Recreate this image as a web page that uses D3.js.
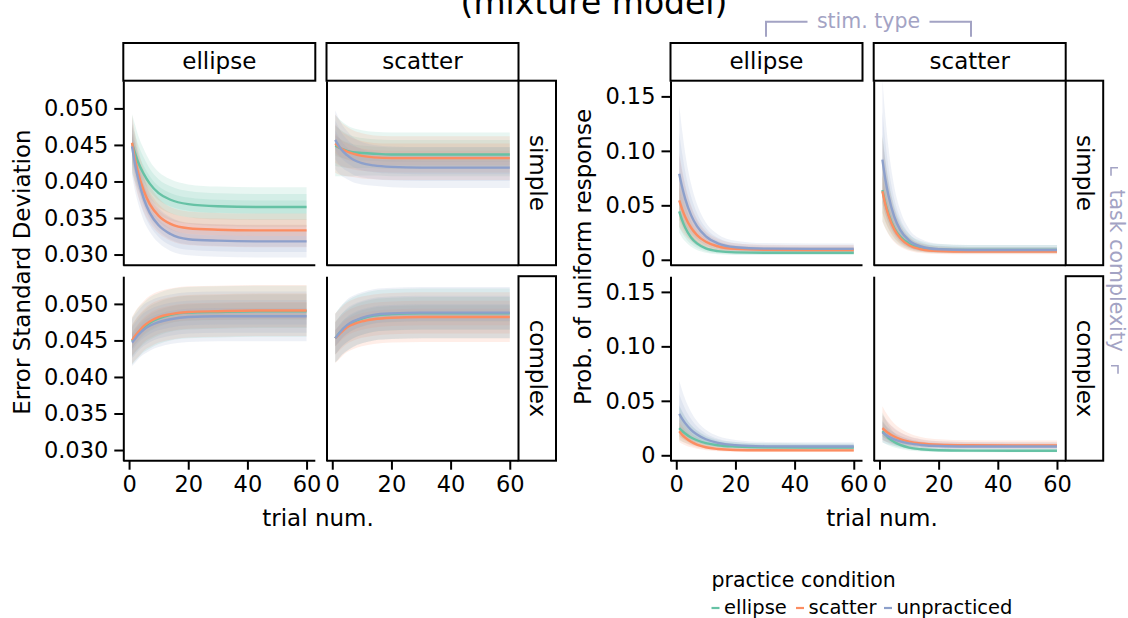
<!DOCTYPE html>
<html>
<head>
<meta charset="utf-8">
<script src="https://cdn.jsdelivr.net/npm/d3@7"></script>
<style>
  html, body { margin: 0; padding: 0; background: #fff; }
  svg { display: block; font-family: "DejaVu Sans", sans-serif; }
</style>
</head>
<body>
<svg id="chart" width="1128" height="618"></svg>
<script>
// ---- data -------------------------------------------------------------
const trials = [1, 2, 3, 5, 7, 10, 14, 20, 30, 45, 60];
const stimTypes = ["ellipse", "scatter"];
const complexities = ["simple", "complex"];
const conditions = ["ellipse", "scatter", "unpracticed"];
const conditionColors = ["#66c2a5", "#fc8d62", "#8da0cb"];

const xTicks = [0, 20, 40, 60];
const sdTicks = [0.030, 0.035, 0.040, 0.045, 0.050];
const sdTickLabels = ["0.030", "0.035", "0.040", "0.045", "0.050"];
const probTicks = [0, 0.05, 0.10, 0.15];
const probTickLabels = ["0", "0.05", "0.10", "0.15"];

// Error standard deviation: posterior mean per practice condition
// (rows: ellipse, scatter, unpracticed) and half-width of the outer interval
const sdEllipseSimpleMean = [
  [0.0452, 0.0439, 0.0427, 0.0410, 0.0397, 0.0384, 0.0375, 0.0369, 0.0366, 0.0365, 0.0365],
  [0.0453, 0.0431, 0.0413, 0.0387, 0.0369, 0.0353, 0.0342, 0.0336, 0.0334, 0.0333, 0.0333],
  [0.0448, 0.0424, 0.0405, 0.0376, 0.0357, 0.0340, 0.0328, 0.0321, 0.0319, 0.0318, 0.0318]
];
const sdEllipseSimpleSpread = [
  [0.0040, 0.0039, 0.0037, 0.0034, 0.0031, 0.0029, 0.0028, 0.0027, 0.0027, 0.0027, 0.0027],
  [0.0038, 0.0036, 0.0033, 0.0029, 0.0026, 0.0024, 0.0023, 0.0023, 0.0023, 0.0023, 0.0023],
  [0.0040, 0.0037, 0.0034, 0.0030, 0.0026, 0.0024, 0.0023, 0.0022, 0.0022, 0.0022, 0.0022]
];
const sdScatterSimpleMean = [
  [0.0449, 0.0447, 0.0445, 0.0442, 0.0440, 0.0439, 0.0438, 0.0437, 0.0437, 0.0437, 0.0437],
  [0.0452, 0.0448, 0.0445, 0.0441, 0.0438, 0.0435, 0.0433, 0.0432, 0.0432, 0.0432, 0.0432],
  [0.0457, 0.0450, 0.0444, 0.0436, 0.0430, 0.0425, 0.0422, 0.0420, 0.0419, 0.0419, 0.0419]
];
const sdScatterSimpleSpread = [
  [0.0042, 0.0040, 0.0038, 0.0035, 0.0033, 0.0031, 0.0030, 0.0030, 0.0030, 0.0030, 0.0030],
  [0.0040, 0.0038, 0.0036, 0.0034, 0.0032, 0.0031, 0.0030, 0.0030, 0.0030, 0.0030, 0.0030],
  [0.0040, 0.0038, 0.0036, 0.0033, 0.0031, 0.0029, 0.0028, 0.0028, 0.0028, 0.0028, 0.0028]
];
const sdEllipseComplexMean = [
  [0.0449, 0.0455, 0.0460, 0.0468, 0.0474, 0.0480, 0.0485, 0.0488, 0.0489, 0.0490, 0.0490],
  [0.0450, 0.0456, 0.0461, 0.0470, 0.0476, 0.0482, 0.0486, 0.0489, 0.0490, 0.0491, 0.0491],
  [0.0447, 0.0452, 0.0457, 0.0465, 0.0470, 0.0475, 0.0479, 0.0482, 0.0483, 0.0483, 0.0483]
];
const sdEllipseComplexSpread = [
  [0.0032, 0.0033, 0.0034, 0.0034, 0.0035, 0.0035, 0.0035, 0.0035, 0.0035, 0.0035, 0.0035],
  [0.0032, 0.0033, 0.0034, 0.0034, 0.0035, 0.0035, 0.0035, 0.0035, 0.0035, 0.0035, 0.0035],
  [0.0032, 0.0033, 0.0033, 0.0034, 0.0034, 0.0034, 0.0034, 0.0034, 0.0034, 0.0034, 0.0034]
];
const sdScatterComplexMean = [
  [0.0453, 0.0458, 0.0463, 0.0470, 0.0475, 0.0480, 0.0484, 0.0486, 0.0487, 0.0487, 0.0487],
  [0.0453, 0.0457, 0.0461, 0.0468, 0.0472, 0.0476, 0.0479, 0.0481, 0.0482, 0.0482, 0.0482],
  [0.0453, 0.0458, 0.0463, 0.0471, 0.0476, 0.0481, 0.0485, 0.0487, 0.0488, 0.0488, 0.0488]
];
const sdScatterComplexSpread = [
  [0.0033, 0.0034, 0.0034, 0.0034, 0.0034, 0.0034, 0.0034, 0.0034, 0.0034, 0.0034, 0.0034],
  [0.0034, 0.0034, 0.0034, 0.0034, 0.0034, 0.0034, 0.0034, 0.0034, 0.0034, 0.0034, 0.0034],
  [0.0033, 0.0034, 0.0034, 0.0035, 0.0035, 0.0035, 0.0035, 0.0035, 0.0035, 0.0035, 0.0035]
];

// Probability of a uniform (guess) response: posterior mean per practice
// condition and a multiplicative width of the outer interval
const probEllipseSimpleMean = [
  [0.0445, 0.0361, 0.0296, 0.0205, 0.0150, 0.0105, 0.0080, 0.0068, 0.0065, 0.0065, 0.0065],
  [0.0545, 0.0463, 0.0395, 0.0294, 0.0227, 0.0165, 0.0124, 0.0100, 0.0092, 0.0090, 0.0090],
  [0.0790, 0.0665, 0.0562, 0.0410, 0.0308, 0.0214, 0.0151, 0.0115, 0.0102, 0.0100, 0.0100]
];
const probScatterSimpleMean = [
  [0.0640, 0.0518, 0.0424, 0.0292, 0.0213, 0.0148, 0.0111, 0.0095, 0.0090, 0.0090, 0.0090],
  [0.0630, 0.0507, 0.0412, 0.0279, 0.0199, 0.0133, 0.0097, 0.0080, 0.0075, 0.0075, 0.0075],
  [0.0920, 0.0737, 0.0594, 0.0395, 0.0275, 0.0177, 0.0122, 0.0097, 0.0090, 0.0090, 0.0090]
];
const probEllipseComplexMean = [
  [0.0250, 0.0223, 0.0200, 0.0163, 0.0138, 0.0112, 0.0092, 0.0080, 0.0073, 0.0072, 0.0072],
  [0.0220, 0.0188, 0.0162, 0.0124, 0.0098, 0.0074, 0.0058, 0.0049, 0.0046, 0.0045, 0.0045],
  [0.0380, 0.0334, 0.0295, 0.0234, 0.0190, 0.0147, 0.0114, 0.0093, 0.0082, 0.0080, 0.0080]
];
const probScatterComplexMean = [
  [0.0220, 0.0188, 0.0161, 0.0122, 0.0096, 0.0071, 0.0055, 0.0046, 0.0043, 0.0042, 0.0042],
  [0.0250, 0.0225, 0.0205, 0.0172, 0.0149, 0.0126, 0.0108, 0.0097, 0.0092, 0.0090, 0.0090],
  [0.0210, 0.0190, 0.0173, 0.0147, 0.0128, 0.0109, 0.0095, 0.0085, 0.0081, 0.0080, 0.0080]
];
const probSpreadFactor = [1.80, 1.78, 1.75, 1.70, 1.66, 1.60, 1.56, 1.52, 1.50, 1.50, 1.50];

// ---- layout -----------------------------------------------------------
const svg = d3.select("#chart");
const FONT = 23;
const TICK_FONT = 22.5;
const panelW = 192, panelH = 184.5, colGap = 11.2, rowStripW = 37.5;
const rowTops = [80.7, 276.2];
const stripTop = 43;
const tickLen = 9;
const ink = "#000";
const noteColor = "#a3a3c4";
const bandLevels = [1, 0.66, 0.33];   // nested interval widths
const bandOpacity = 0.15;

const xDomain = [-1.95, 62.95];

const metrics = [
  {
    left: 123.3,
    yDomain: [0.02854, 0.05379],
    ticks: sdTicks, tickLabels: sdTickLabels,
    ylabel: "Error Standard Deviation", ylabelX: 29.5, ylabelY: 272,
    xlabelX: 318,
    panels: [
      [sdEllipseSimpleMean, sdScatterSimpleMean],
      [sdEllipseComplexMean, sdScatterComplexMean]
    ],
    spreads: [
      [sdEllipseSimpleSpread, sdScatterSimpleSpread],
      [sdEllipseComplexSpread, sdScatterComplexSpread]
    ],
    spreadAt: (s, k, i) => s[k][i],
    band: (m, s, f) => [m - s * f, m + s * f]
  },
  {
    left: 670.5,
    yDomain: [-0.00497, 0.1644],
    ticks: probTicks, tickLabels: probTickLabels,
    ylabel: "Prob. of uniform response", ylabelX: 590.5, ylabelY: 257,
    xlabelX: 882,
    panels: [
      [probEllipseSimpleMean, probScatterSimpleMean],
      [probEllipseComplexMean, probScatterComplexMean]
    ],
    spreads: [
      [probSpreadFactor, probSpreadFactor],
      [probSpreadFactor, probSpreadFactor]
    ],
    spreadAt: (s, k, i) => s[i],
    band: (m, k, f) => [m / Math.pow(k, f), m * Math.pow(k, f)]
  }
];

// ---- title --------------------------------------------------------------
svg.append("text")
  .attr("x", 594).attr("y", 14)
  .attr("text-anchor", "middle")
  .attr("font-size", 33)
  .attr("fill", ink)
  .text("(mixture model)");

// ---- panels -------------------------------------------------------------
metrics.forEach(mt => {
  const colX = [mt.left, mt.left + panelW + colGap];

  complexities.forEach((cx, ri) => {
    const top = rowTops[ri];
    const y = d3.scaleLinear().domain(mt.yDomain).range([top + panelH, top]);

    stimTypes.forEach((st, ci) => {
      const x0 = colX[ci];
      const x = d3.scaleLinear().domain(xDomain).range([x0, x0 + panelW]);
      const g = svg.append("g");

      const means = mt.panels[ri][ci];
      const spreads = mt.spreads[ri][ci];

      // interval bands
      conditions.forEach((cond, k) => {
        const rows = trials.map((t, i) => ({ t, m: means[k][i], s: mt.spreadAt(spreads, k, i) }));
        bandLevels.forEach(f => {
          const area = d3.area()
            .curve(d3.curveMonotoneX)
            .x(d => x(d.t))
            .y0(d => y(mt.band(d.m, d.s, f)[0]))
            .y1(d => y(mt.band(d.m, d.s, f)[1]));
          g.append("path")
            .datum(rows)
            .attr("d", area)
            .attr("fill", conditionColors[k])
            .attr("fill-opacity", bandOpacity)
            .attr("stroke", "none");
        });
      });

      // mean lines
      conditions.forEach((cond, k) => {
        const line = d3.line()
          .curve(d3.curveMonotoneX)
          .x((d, i) => x(trials[i]))
          .y(d => y(d));
        g.append("path")
          .datum(means[k])
          .attr("d", line)
          .attr("fill", "none")
          .attr("stroke", conditionColors[k])
          .attr("stroke-width", 2.4);
      });

      // left spine (with y ticks on the first column)
      const yAxis = d3.axisLeft(y)
        .tickValues(ci === 0 ? mt.ticks : [])
        .tickFormat((d, i) => mt.tickLabels[i])
        .tickSize(tickLen).tickSizeOuter(0).tickPadding(6);
      const ya = g.append("g").attr("transform", `translate(${x0},0)`).call(yAxis);
      ya.select(".domain").attr("stroke", ink).attr("stroke-width", 2);
      ya.selectAll(".tick line").attr("stroke", ink).attr("stroke-width", 2);
      ya.selectAll(".tick text")
        .attr("font-size", TICK_FONT).attr("font-family", "DejaVu Sans")
        .attr("fill", ink);

      // bottom spine (with x ticks on the bottom row)
      const xAxis = d3.axisBottom(x)
        .tickValues(ri === 1 ? xTicks : [])
        .tickFormat(d3.format("d"))
        .tickSize(tickLen).tickSizeOuter(0).tickPadding(6);
      const xa = g.append("g").attr("transform", `translate(0,${top + panelH})`).call(xAxis);
      xa.select(".domain").attr("stroke", ink).attr("stroke-width", 2)
        .attr("d", `M${x0},0H${x0 + panelW}`);
      xa.selectAll(".tick line").attr("stroke", ink).attr("stroke-width", 2);
      xa.selectAll(".tick text")
        .attr("font-size", TICK_FONT).attr("font-family", "DejaVu Sans")
        .attr("fill", ink);

      // column strip
      if (ri === 0) {
        svg.append("rect")
          .attr("x", x0).attr("y", stripTop)
          .attr("width", panelW).attr("height", top - stripTop)
          .attr("fill", "#fff").attr("stroke", ink).attr("stroke-width", 2);
        svg.append("text")
          .attr("x", x0 + panelW / 2).attr("y", (stripTop + top) / 2)
          .attr("dy", "0.33em")
          .attr("text-anchor", "middle")
          .attr("font-size", FONT).attr("fill", ink)
          .text(st);
      }

      // row strip
      if (ci === 1) {
        const sx = x0 + panelW;
        svg.append("rect")
          .attr("x", sx).attr("y", top)
          .attr("width", rowStripW).attr("height", panelH)
          .attr("fill", "#fff").attr("stroke", ink).attr("stroke-width", 2);
        svg.append("text")
          .attr("transform", `translate(${sx + rowStripW / 2},${top + panelH / 2}) rotate(90)`)
          .attr("dy", "0.33em")
          .attr("text-anchor", "middle")
          .attr("font-size", FONT).attr("fill", ink)
          .text(cx);
      }
    });
  });

  // axis titles
  svg.append("text")
    .attr("transform", `translate(${mt.ylabelX},${mt.ylabelY}) rotate(-90)`)
    .attr("text-anchor", "middle")
    .attr("font-size", FONT).attr("fill", ink)
    .text(mt.ylabel);
  svg.append("text")
    .attr("x", mt.xlabelX).attr("y", 526)
    .attr("text-anchor", "middle")
    .attr("font-size", FONT).attr("fill", ink)
    .text("trial num.");
});

// ---- facet annotations ----------------------------------------------------
(function () {
  const cx = 868.5, half = 102.5, ly = 21.7, tick = 15;
  const g = svg.append("g").attr("stroke", noteColor).attr("stroke-width", 2).attr("fill", "none");
  g.append("path").attr("d", `M${cx - half},${ly + tick}V${ly}H${cx - 61}`);
  g.append("path").attr("d", `M${cx + 61},${ly}H${cx + half}V${ly + tick}`);
  svg.append("text")
    .attr("x", cx).attr("y", ly).attr("dy", "0.3em")
    .attr("text-anchor", "middle")
    .attr("font-size", 20.5).attr("fill", noteColor)
    .text("stim. type");

  const vx = 1117, vc = 270.7, vh = 103;
  const g2 = svg.append("g").attr("stroke", noteColor).attr("stroke-width", 1.6).attr("fill", "none");
  g2.append("path").attr("d", `M${vx - 6},${vc - vh + 8}V${vc - vh}H${vx + 1}`);
  g2.append("path").attr("d", `M${vx - 6},${vc + vh - 8}H${vx + 1}V${vc + vh}`);
  svg.append("text")
    .attr("transform", `translate(${vx},${vc}) rotate(90)`)
    .attr("dy", "0.35em")
    .attr("text-anchor", "middle")
    .attr("font-size", 20.5).attr("fill", noteColor)
    .text("task complexity");
})();

// ---- legend ---------------------------------------------------------------
(function () {
  svg.append("text")
    .attr("x", 711.5).attr("y", 587)
    .attr("font-size", 20.5).attr("fill", ink)
    .text("practice condition");
  const itemX = [711.5, 796, 884];
  conditions.forEach((c, k) => {
    svg.append("line")
      .attr("x1", itemX[k]).attr("x2", itemX[k] + 8)
      .attr("y1", 608).attr("y2", 608)
      .attr("stroke", conditionColors[k]).attr("stroke-width", 2.2);
    svg.append("text")
      .attr("x", itemX[k] + 12.5).attr("y", 614)
      .attr("font-size", 19.5).attr("fill", ink)
      .text(c);
  });
})();
</script>
</body>
</html>
